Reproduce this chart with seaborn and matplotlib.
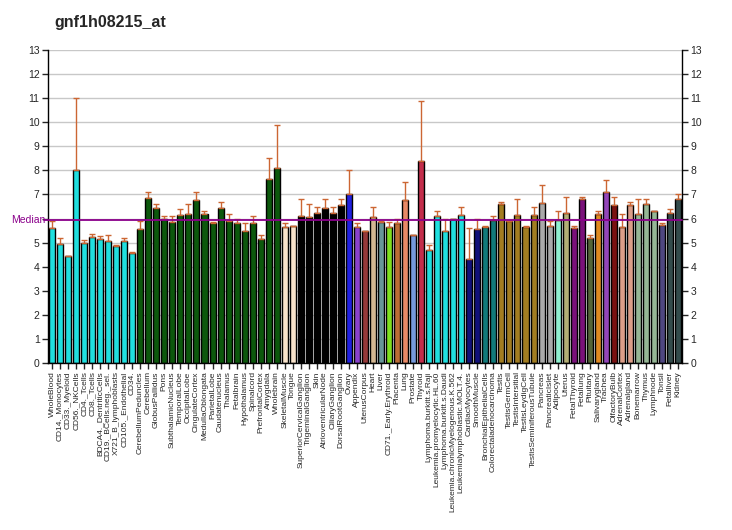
import matplotlib
matplotlib.use("Agg")
import matplotlib.pyplot as plt
import seaborn as sns
import numpy as np
import pandas as pd

labels = ["WholeBlood", "CD14._Monocytes", "CD33._Myeloid", "CD56._NKCells", "CD4._Tcells",
          "CD8._Tcells", "BDCA4._DentriticCells", "CD19._BCells.neg._sel.", "X721_B_lymphoblasts",
          "CD105._Endothelial", "CD34.", "CerebellumPeduncles", "Cerebellum", "GlobusPallidus",
          "Pons", "SubthalamicNucleus", "TemporalLobe", "OccipitalLobe", "CingulateCortex",
          "MedullaOblongata", "ParietalLobe", "Caudatenucleus", "Thalamus", "Fetalbrain",
          "Hypothalamus", "Spinalcord", "PrefrontalCortex", "Amygdala", "Wholebrain",
          "SkeletalMuscle", "Tongue", "SuperiorCervicalGanglion", "TrigeminalGanglion", "Skin",
          "AtrioventricularNode", "CiliaryGanglion", "DorsalRootGanglion", "Ovary", "Appendix",
          "UterusCorpus", "Heart", "Liver", "CD71._Early.Erythroid", "Placenta", "Lung",
          "Prostate", "Thyroid", "Lymphoma.burkitt.s.Raji", "Leukemia.promyelocytic.HL.60",
          "Lymphoma.burkitt.s.Daudi", "Leukemia.chronicMyelogenous.K.562",
          "Leukemialymphoblastic.MOLT.4.", "CardiacMyocytes", "SmoothMuscle",
          "BronchialEpithelialCells", "Colorectaladenocarcinoma", "Testis", "TestisGermCell",
          "TestisIntersitial", "TestisLeydigCell", "TestisSeminiferousTubule", "Pancreas",
          "PancreaticIslet", "Adipocyte", "Uterus", "FetalThyroid", "Fetallung", "Pituitary",
          "Salivarygland", "Trachea", "OlfactoryBulb", "AdrenalCortex", "Adrenalgland",
          "Bonemarrow", "Thymus", "Lymphnode", "Tonsil", "Fetalliver", "Kidney"]

values = [5.59, 4.93, 4.43, 8.00, 4.97, 5.22, 5.14, 5.05, 4.85, 5.05, 4.55,
          5.55, 6.84, 6.42, 5.97, 5.84, 6.13, 6.18, 6.77, 6.18, 5.80, 6.42, 5.88, 5.80,
          5.47, 5.80, 5.14, 7.63, 8.08, 5.63, 5.68, 6.09, 6.05, 6.22, 6.42, 6.22, 6.55,
          7.01, 5.63, 5.47, 6.05, 5.84, 5.63, 5.80, 6.76, 5.30, 8.38, 4.68, 6.09, 5.47,
          5.97, 6.13, 4.31, 5.55, 5.63, 5.93, 6.59, 5.88, 6.13, 5.63, 6.13, 6.63, 5.68,
          5.93, 6.22, 5.59, 6.80, 5.18, 6.18, 7.09, 6.55, 5.63, 6.55, 6.18, 6.59, 6.30,
          5.72, 6.22, 6.80]

err_top = [5.91, 5.18, 4.46, 11.0, 5.10, 5.37, 5.29, 5.30, 4.89, 5.18, 4.60,
           5.90, 7.09, 6.59, 6.09, 6.09, 6.38, 6.59, 7.09, 6.30, 5.85, 6.67, 6.18, 5.97,
           5.80, 6.09, 5.30, 8.50, 9.88, 5.80, 5.68, 6.80, 6.59, 6.47, 6.80, 6.47, 6.80,
           8.00, 5.80, 5.47, 6.47, 5.88, 5.85, 5.97, 7.50, 5.30, 10.88, 4.89, 6.30, 5.97,
           5.97, 6.47, 5.59, 5.97, 5.68, 6.09, 6.67, 5.88, 6.80, 5.68, 6.47, 7.38, 5.88,
           6.30, 6.88, 5.68, 6.88, 5.30, 6.30, 7.59, 6.88, 6.18, 6.67, 6.80, 6.80, 6.30,
           5.80, 6.38, 7.01]

colors = (["#00FFFF"] * 11 + ["#006400"] * 18 + ["#FFE4C4"] * 2 + ["#000000"] * 6 +
          ["#0000FF", "#8A2BE2", "#A52A2A", "#DEB887", "#5F9EA0", "#7FFF00", "#D2691E",
           "#FF7F50", "#6495ED", "#DC143C"] + ["#00FFFF"] * 5 + ["#00008B"] * 2 +
          ["#008B8B"] * 2 + ["#B8860B"] * 5 + ["#A9A9A9"] * 2 +
          ["#7FFFD4", "#BDB76B", "#8B008B", "#8B008B", "#556B2F", "#FF8C00", "#9932CC",
           "#8B0000", "#E9967A", "#E9967A", "#8FBC8F", "#8FBC8F", "#8FBC8F", "#483D8B",
           "#2F4F4F", "#2F4F4F"])

median_value = 5.93
title = "gnf1h08215_at"
yticks = list(range(0, 14))

df = pd.DataFrame({"label": labels, "value": values})

sns.set_style("white")
plt.rcParams["font.family"] = ["Liberation Sans", "DejaVu Sans"]

fig = plt.figure(figsize=(7.32, 5.30), dpi=100)
ax = fig.add_axes([48 / 732, 1 - 363 / 530, 634 / 732, 313 / 530])

for y in yticks[1:]:
    ax.axhline(y, color="#C8C8C8", lw=1.0, zorder=0)

sns.barplot(data=df, x="label", y="value", hue="label", palette=colors, legend=False,
            width=0.75, edgecolor="black", linewidth=1.0, ax=ax, zorder=2)

x = np.arange(len(values))
vals = np.array(values)
up = np.array(err_top) - vals
ax.errorbar(x, vals, yerr=[np.zeros_like(up), up], fmt="none", ecolor="#CC6633",
            elinewidth=1.0, capsize=2.5, capthick=1.0, zorder=3)

ax.axhline(median_value, color="#8B008B", lw=1.3, zorder=4, xmin=-0.006, clip_on=False)
ax.text(-0.004, median_value, "Median", transform=ax.get_yaxis_transform(),
        color="#8B008B", fontsize=7.5, ha="right", va="center", zorder=5)

ax.set_xlim(-0.5, len(values) - 0.5)
ax.set_ylim(0, 13)
ax.set_yticks(yticks)
ax.set_yticklabels([str(t) for t in yticks], fontsize=7.5)
ax.tick_params(axis="y", which="both", left=True, right=True, labelleft=True,
               labelright=True, length=4, width=1, direction="out", pad=2)
# the "Median" label covers the left "6"
ax.yaxis.get_major_ticks()[6].label1.set_visible(False)
ax.set_xticks(x)
ax.set_xticklabels(labels, rotation=90, fontsize=6)
ax.tick_params(axis="x", length=4, width=1, direction="out", bottom=True, pad=2)
ax.set_xlabel("")
ax.set_ylabel("")
for side in ["left", "right", "bottom"]:
    ax.spines[side].set_visible(True)
    ax.spines[side].set_color("black")
    ax.spines[side].set_linewidth(1.0)
ax.spines["top"].set_visible(False)

fig.text(54 / 732, 1 - 22 / 530, title, fontsize=11.5, fontweight="bold",
         ha="left", va="center")

fig.savefig("out.png", dpi=100)
